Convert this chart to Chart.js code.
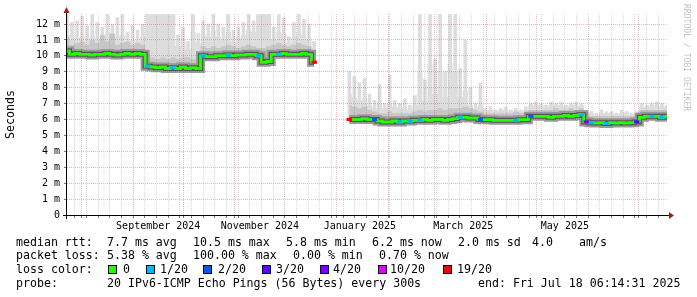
<!DOCTYPE html>
<html>
<head>
<meta charset="utf-8">
<script src="https://cdn.jsdelivr.net/npm/chart.js@4.4.1/dist/chart.umd.min.js"></script>
<style>
  html, body { margin: 0; padding: 0; background: #fff; }
  #wrap { position: relative; width: 697px; height: 297px; overflow: hidden; }
  #wrap canvas { position: absolute; left: 0; top: 0; }
  .t { position: absolute; font-family: "DejaVu Sans Mono", monospace; font-size: 11.6px; line-height: 14px; color: #000; white-space: pre; }
  .sq { position: absolute; top: 265px; width: 9px; height: 9px; box-sizing: border-box; border: 1px solid #000; }
  #credit { position: absolute; left: 682px; top: 4px; writing-mode: vertical-rl; font-family: "DejaVu Sans Mono", monospace; font-size: 8.1px; line-height: 10px; color: #c4c4c4; white-space: pre; }
</style>
</head>
<body>
<div id="wrap">
  <canvas id="rttChart" width="697" height="297"></canvas>
  <div id="credit">RRDTOOL / TOBI OETIKER</div>

  <div class="t" style="left:16px;top:235px">median rtt:</div>
  <div class="t" style="left:107px;top:235px">7.7 ms avg</div>
  <div class="t" style="left:193px;top:235px">10.5 ms max</div>
  <div class="t" style="left:286px;top:235px">5.8 ms min</div>
  <div class="t" style="left:372px;top:235px">6.2 ms now</div>
  <div class="t" style="left:458px;top:235px">2.0 ms sd</div>
  <div class="t" style="left:532px;top:235px">4.0</div>
  <div class="t" style="left:579px;top:235px">am/s</div>

  <div class="t" style="left:16px;top:248px">packet loss:</div>
  <div class="t" style="left:107px;top:248px">5.38 % avg</div>
  <div class="t" style="left:193px;top:248px">100.00 % max</div>
  <div class="t" style="left:293px;top:248px">0.00 % min</div>
  <div class="t" style="left:379px;top:248px">0.70 % now</div>

  <div class="t" style="left:16px;top:262px">loss color:</div>
  <div id="lossLegend"></div>

  <div class="t" style="left:16px;top:276px">probe:</div>
  <div class="t" style="left:107px;top:276px">20 IPv6-ICMP Echo Pings (56 Bytes) every 300s</div>
  <div class="t" style="left:478px;top:276px">end: Fri Jul 18 06:14:31 2025</div>
</div>

<script>
// time frame: one sample every ~3 days over 360 days
const DAY = 86400000;
const endTime = Date.UTC(2025, 6, 18, 6, 14, 31);
const startTime = endTime - 360 * DAY;

// median rtt in ms (null = no data)
const median = [
    10.3, 10.1, 10.15, 10.1, 10.1, 10.05, 10.1, 10.1, 10.15, 10.1,
    10.05, 10.1, 10.15, 10.1, 10.15, 10.1, 9.35, 9.3, 9.25, 9.3,
    9.2, 9.25, 9.2, 9.3, 9.2, 9.25, 9.2, 10.0, 9.95, 9.95,
    10.0, 10.0, 10.05, 10.0, 10.05, 10.05, 10.1, 10.1, 10.0, 9.6,
    9.65, 10.1, 10.1, 10.15, 10.1, 10.1, 10.1, 10.15, 10.1, 9.6,
    null, null, null, null, null, null, 6.0, 6.0, 6.0, 6.05,
    6.0, 6.0, 5.9, 5.85, 5.85, 5.9, 5.85, 5.9, 5.9, 5.95,
    5.95, 6.0, 5.95, 6.0, 6.0, 5.95, 6.0, 6.05, 6.15, 6.15,
    6.1, 6.1, 6.0, 5.98, 5.98, 5.95, 5.95, 5.95, 5.95, 5.95,
    5.98, 5.98, 6.2, 6.2, 6.2, 6.2, 6.15, 6.2, 6.2, 6.25,
    6.2, 6.25, 6.3, 5.85, 5.8, 5.78, 5.8, 5.75, 5.8, 5.78,
    5.8, 5.78, 5.8, 5.85, 6.15, 6.2, 6.2, 6.2, 6.15, 6.2
];

// lost pings out of 20 per sample
const loss = [
    0, 0, 0, 0, 0, 0, 0, 0, 0, 0,
    0, 0, 0, 0, 0, 0, 1, 0, 0, 0,
    0, 1, 0, 0, 0, 0, 0, 1, 0, 0,
    0, 0, 1, 0, 0, 0, 0, 0, 1, 0,
    0, 0, 1, 0, 0, 0, 0, 0, 0, 19,
    0, 0, 0, 0, 0, 0, 19, 0, 0, 0,
    0, 2, 0, 0, 0, 0, 1, 0, 1, 0,
    1, 0, 0, 0, 0, 0, 0, 0, 1, 0,
    0, 0, 2, 0, 0, 0, 0, 0, 0, 1,
    0, 0, 2, 0, 0, 0, 0, 0, 0, 0,
    0, 0, 1, 4, 1, 0, 0, 1, 0, 0,
    0, 0, 0, 3, 0, 0, 1, 0, 1, 0
];

// upper edge of the denser smoke
const smokeMid = [
    11.2, 10.7, 10.8, 10.9, 10.7, 11.0, 10.8, 11.3, 10.9, 11.4,
    10.7, 10.8, 10.9, 10.7, 10.8, 10.7, 10.0, 9.9, 9.8, 9.9,
    9.8, 9.9, 9.8, 9.9, 9.9, 9.8, 9.9, 10.6, 10.5, 10.6,
    10.5, 10.6, 10.7, 10.6, 10.5, 10.6, 10.7, 10.6, 10.5, 10.5,
    10.6, 10.7, 10.8, 10.7, 10.6, 10.7, 10.8, 10.7, 10.6, 10.3,
    null, null, null, null, null, null, 6.9, 6.8, 6.7, 6.8,
    6.6, 6.5, 6.4, 6.4, 6.5, 6.4, 6.4, 6.4, 6.4, 6.5,
    6.6, 6.5, 6.6, 6.6, 6.7, 6.6, 6.7, 6.7, 6.7, 6.8,
    6.7, 6.6, 6.5, 6.4, 6.4, 6.4, 6.4, 6.4, 6.4, 6.5,
    6.4, 6.4, 6.6, 6.6, 6.6, 6.6, 6.6, 6.7, 6.6, 6.6,
    6.7, 6.6, 6.7, 6.2, 6.2, 6.2, 6.2, 6.2, 6.2, 6.2,
    6.2, 6.2, 6.2, 6.2, 6.6, 6.6, 6.6, 6.6, 6.6, 6.6
];

// upper edge of the continuous light smoke
const smokeTop = [
    11.3, 11.0, 11.1, 11.2, 10.9, 11.3, 11.0, 11.0, 11.4, 11.0,
    11.2, 11.3, 10.8, 11.0, 10.9, 11.2, 12.6, 12.6, 12.6, 12.6,
    12.6, 12.6, 10.6, 11.0, 10.4, 11.5, 10.8, 11.4, 11.2, 11.6,
    11.2, 11.0, 11.5, 10.9, 11.1, 11.3, 11.6, 11.5, 12.6, 12.6,
    12.6, 11.0, 11.5, 11.4, 10.8, 11.2, 11.5, 11.3, 11.0, 10.5,
    null, null, null, null, null, null, 7.6, 7.4, 7.2, 7.3,
    6.9, 6.7, 7.0, 6.7, 7.0, 6.8, 6.7, 6.8, 6.6, 6.9,
    9.0, 7.2, 9.5, 7.6, 9.0, 7.4, 9.5, 9.0, 7.4, 7.8,
    6.9, 6.7, 6.9, 6.6, 6.6, 6.5, 6.6, 6.6, 6.5, 6.6,
    6.5, 6.6, 6.9, 6.9, 6.9, 6.8, 6.9, 6.9, 6.9, 6.8,
    6.9, 6.9, 6.9, 6.4, 6.4, 6.3, 6.4, 6.4, 6.4, 6.3,
    6.4, 6.4, 6.3, 6.4, 6.8, 6.8, 6.9, 6.9, 6.8, 6.8
];

// highest ping of each sample (thin light spikes)
const smokeHi = [
    12.6, 12.1, 12.2, 12.5, 11.9, 12.6, 12.1, 11.8, 12.6, 12.0,
    12.4, 12.6, 11.5, 11.9, 11.6, 12.0, 12.6, 12.6, 12.6, 12.6,
    12.6, 12.6, 11.3, 11.8, 10.9, 12.6, 11.4, 12.2, 12.0, 12.6,
    12.0, 11.8, 12.6, 11.6, 11.8, 12.1, 12.6, 12.2, 12.6, 12.6,
    12.6, 11.8, 12.6, 12.4, 11.2, 12.1, 12.6, 12.3, 12.0, 10.9,
    null, null, null, null, null, null, 9.0, 8.7, 8.3, 8.6,
    7.6, 7.2, 8.2, 7.0, 8.8, 7.2, 7.0, 7.3, 6.9, 7.5,
    12.6, 8.5, 12.6, 9.8, 12.6, 9.0, 12.6, 12.6, 9.2, 11.0,
    8.0, 7.0, 8.3, 6.7, 6.8, 6.6, 6.7, 6.8, 6.6, 6.7,
    6.6, 6.8, 7.0, 7.1, 7.0, 6.9, 7.1, 7.0, 7.1, 6.9,
    7.0, 7.1, 7.0, 6.6, 6.5, 6.4, 6.6, 6.5, 6.5, 6.4,
    6.6, 6.5, 6.4, 6.5, 7.0, 6.9, 7.0, 7.1, 7.0, 6.9
];

const lossLevels = [0, 1, 2, 3, 4, 10, 19];
const lossNames = ['0', '1/20', '2/20', '3/20', '4/20', '10/20', '19/20'];
const lossColors = ['#26ff00', '#00b8ff', '#0059ff', '#5e00ff', '#7e00ff', '#dd00ff', '#ff0000'];

const monthStarts = ['2024-08-01', '2024-09-01', '2024-10-01', '2024-11-01', '2024-12-01', '2025-01-01',
    '2025-02-01', '2025-03-01', '2025-04-01', '2025-05-01', '2025-06-01', '2025-07-01'];
const labelDates = ['2024-09-16', '2024-11-16', '2025-01-15', '2025-03-18', '2025-05-18'];
const monthLabels = ['September 2024', 'November 2024', 'January 2025', 'March 2025', 'May 2025'];

const GRID_MINOR = 'rgba(120,120,120,0.28)';
const GRID_MAJOR = 'rgba(225,60,60,0.38)';

function lossColor(n) {
    let c = lossColors[0];
    lossLevels.forEach(function(lv, i) { if (n >= lv) c = lossColors[i]; });
    return c;
}

function sampleTime(i, n) {
    return startTime + i * (endTime - startTime) / (n - 1);
}

function points(arr) {
    return arr.map(function(v, i) { return {x: sampleTime(i, arr.length), y: v}; });
}

// spikes go from the median up to the highest ping
const spikes = smokeHi.map(function(v, i) {
    return {x: sampleTime(i, smokeHi.length), y: v === null ? null : [median[i], v]};
});

// loss colour legend
const legendSquareX = [108, 146, 203, 262, 320, 378, 443];
const legendTextX = [123, 160, 218, 276, 333, 390, 457];
const legendBox = document.getElementById('lossLegend');
lossNames.forEach(function(name, i) {
    const sq = document.createElement('div');
    sq.className = 'sq';
    sq.style.left = legendSquareX[i] + 'px';
    sq.style.background = lossColors[i];
    legendBox.appendChild(sq);
    const t = document.createElement('div');
    t.className = 't';
    t.style.left = legendTextX[i] + 'px';
    t.style.top = '262px';
    t.textContent = name;
    legendBox.appendChild(t);
});

// axes with arrows, and median redrawn over the grid
const rrdAxes = {
    id: 'rrdAxes',
    afterDraw: function(chart) {
        const ctx = chart.ctx;
        const a = chart.chartArea;
        ctx.save();
        ctx.beginPath();
        ctx.rect(a.left, a.top - 2, a.right - a.left, a.bottom - a.top + 2);
        ctx.clip();
        chart.getDatasetMeta(0).controller.draw();
        ctx.restore();

        const x0 = a.left - 0.5, y0 = a.bottom + 0.5;
        ctx.save();
        ctx.strokeStyle = '#000';
        ctx.lineWidth = 1;
        ctx.beginPath();
        ctx.moveTo(x0, a.bottom + 4);
        ctx.lineTo(x0, 12);
        ctx.moveTo(a.left - 4, y0);
        ctx.lineTo(a.right + 2, y0);
        ctx.stroke();
        ctx.fillStyle = '#9a1f1f';
        ctx.beginPath();
        ctx.moveTo(x0 - 3, 13);
        ctx.lineTo(x0, 7);
        ctx.lineTo(x0 + 3, 13);
        ctx.closePath();
        ctx.fill();
        ctx.beginPath();
        ctx.moveTo(a.right + 2, y0 - 3.5);
        ctx.lineTo(a.right + 7, y0);
        ctx.lineTo(a.right + 2, y0 + 3.5);
        ctx.closePath();
        ctx.fill();
        ctx.restore();
    }
};

Chart.defaults.font.family = '"DejaVu Sans Mono", monospace';
Chart.defaults.color = '#000';

new Chart(document.getElementById('rttChart'), {
    type: 'line',
    data: {
        datasets: [
            {
                data: points(median),
                borderColor: '#22ff00',
                borderWidth: 2.5,
                stepped: 'middle',
                fill: false,
                pointStyle: 'line',
                pointRadius: function(c) { return loss[c.dataIndex] ? 2.6 : 0; },
                pointBorderWidth: 3,
                pointBorderColor: function(c) { return lossColor(loss[c.dataIndex]); },
                order: 0
            },
            {
                data: points(median),
                borderColor: '#555555',
                borderWidth: 5,
                stepped: 'middle',
                fill: false,
                pointRadius: 0,
                order: 1
            },
            {
                data: points(median),
                borderColor: '#9a9a9a',
                borderWidth: 9,
                stepped: 'middle',
                fill: false,
                pointRadius: 0,
                order: 2
            },
            {
                data: points(smokeMid),
                borderWidth: 0,
                backgroundColor: '#c6c6c6',
                stepped: 'middle',
                fill: 2,
                pointRadius: 0,
                order: 3
            },
            {
                data: points(smokeTop),
                borderWidth: 0,
                backgroundColor: '#dddddd',
                stepped: 'middle',
                fill: 2,
                pointRadius: 0,
                order: 4
            },
            {
                type: 'bar',
                data: spikes,
                backgroundColor: '#dddddd',
                borderWidth: 0,
                barThickness: 3,
                grouped: false,
                order: 5
            }
        ]
    },
    options: {
        responsive: false,
        animation: false,
        events: [],
        layout: {
            autoPadding: false,
            padding: {left: 0, right: 30, top: 14, bottom: 0}
        },
        plugins: {
            legend: {display: false},
            tooltip: {enabled: false}
        },
        scales: {
            x: {
                type: 'linear',
                min: startTime,
                max: endTime,
                offset: false,
                afterFit: function(scale) { scale.height = 82; },
                afterBuildTicks: function(scale) {
                    const t = [];
                    const majors = monthStarts.map(function(s) { return Date.parse(s); });
                    for (let d = Date.UTC(2024, 6, 28); d < endTime; d += 7 * DAY) {
                        if (majors.indexOf(d) < 0) t.push({value: d, kind: 'week'});
                    }
                    majors.forEach(function(v) { t.push({value: v, kind: 'month'}); });
                    labelDates.forEach(function(s, i) {
                        t.push({value: Date.parse(s), kind: 'label', text: monthLabels[i]});
                    });
                    t.sort(function(p, q) { return p.value - q.value; });
                    scale.ticks = t;
                },
                border: {
                    display: false,
                    dash: [1, 1]
                },
                grid: {
                    z: 1,
                    offset: false,
                    color: function(c) {
                        if (!c.tick) return 'transparent';
                        if (c.tick.kind === 'month') return GRID_MAJOR;
                        if (c.tick.kind === 'week') return GRID_MINOR;
                        return 'transparent';
                    },
                    tickColor: function(c) {
                        return c.tick && c.tick.kind !== 'label' ? '#777' : 'transparent';
                    },
                    tickLength: 3
                },
                ticks: {
                    autoSkip: false,
                    maxRotation: 0,
                    minRotation: 0,
                    padding: 2,
                    font: {size: 10},
                    callback: function(v, i, ticks) {
                        return ticks[i].kind === 'label' ? ticks[i].text : '';
                    }
                }
            },
            y: {
                min: 0,
                max: 12.63,
                afterFit: function(scale) { scale.width = 67; },
                afterBuildTicks: function(scale) {
                    const t = [];
                    for (let k = 0; k <= 24; k++) t.push({value: k / 2});
                    scale.ticks = t;
                },
                border: {
                    display: false,
                    dash: [1, 1]
                },
                grid: {
                    z: 1,
                    color: function(c) {
                        if (!c.tick || c.tick.value === 0) return 'transparent';
                        return Number.isInteger(c.tick.value) ? GRID_MAJOR : GRID_MINOR;
                    },
                    tickColor: function(c) {
                        return c.tick && Number.isInteger(c.tick.value) ? '#777' : '#bbb';
                    },
                    tickLength: 3
                },
                ticks: {
                    padding: 4,
                    font: {size: 10},
                    callback: function(v) {
                        if (!Number.isInteger(v)) return '';
                        return v === 0 ? '0' : v + ' m';
                    }
                },
                title: {
                    display: true,
                    text: 'Seconds',
                    font: {size: 11.6},
                    padding: {top: 4, bottom: 0}
                }
            }
        }
    },
    plugins: [rrdAxes]
});
</script>
</body>
</html>
